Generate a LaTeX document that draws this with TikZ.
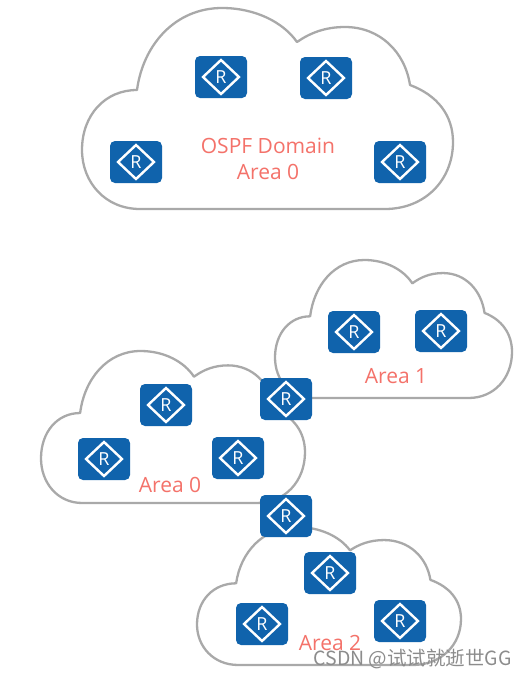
\documentclass[tikz,border=0pt]{standalone}
\usepackage{fontspec}
\usetikzlibrary{shapes.geometric}
\setmainfont{Open Sans}
\newfontfamily\cjkfont{Noto Sans CJK SC}
\definecolor{cloudline}{HTML}{A9A9A9}
\definecolor{routerblue}{HTML}{1063AC}
\definecolor{labelred}{HTML}{F4726A}
\definecolor{markgray}{HTML}{8C8C8C}
\tikzset{
  cloudshape/.style={draw=cloudline,line width=2.3pt,fill=white,line join=round},
  routerbox/.style={draw=none,fill=routerblue,rounded corners=5pt,minimum width=52pt,minimum height=42pt,inner sep=0pt},
  routerdiamond/.style={diamond,aspect=1,draw=white,line width=2.4pt,minimum width=37pt,minimum height=35pt,inner sep=0pt,text=white,font=\fontsize{18}{18}\selectfont},
  arealabel/.style={text=labelred,font=\fontsize{21}{26}\selectfont,align=center,inner sep=0pt},
  watermark/.style={text=markgray,font=\cjkfont\fontsize{19.5}{20}\selectfont,inner sep=0pt,anchor=east}
}
\newcommand{\cloudat}[5]{%
  \begin{scope}[shift={(#2,#3)},xscale=#4/371,yscale=#5/201,shift={(-82,-8)}]
    \draw[cloudshape] (140,209) coordinate (#1)
      .. controls (105,209) and (82,182) .. (82,150)
      .. controls (82,115) and (105,90) .. (137,90)
      .. controls (143,45) and (175,8) .. (222,8)
      .. controls (255,8) and (283,22) .. (297,42)
      .. controls (310,33) and (325,27) .. (345,27)
      .. controls (380,27) and (405,52) .. (410,85)
      .. controls (437,95) and (453,115) .. (453,142)
      .. controls (453,180) and (425,209) .. (385,209) -- cycle;
  \end{scope}}
\newcommand{\router}[3]{%
  \node[routerbox] (#1) at (#2,#3) {};
  \node[routerdiamond] (#1d) at (#1) {R};}
\begin{document}
\begin{tikzpicture}[x=1pt,y=-1pt]
\useasboundingbox (0,0) rectangle (526,678);
\cloudat{c0}{82}{8}{371}{201}
\cloudat{c1}{275}{260}{237}{138}
\cloudat{c2}{41}{351}{264}{152}
\cloudat{c3}{197}{527}{264}{138}
\router{a}{221}{77}
\router{b}{326}{78}
\router{c}{136}{162}
\router{d}{400}{162}
\router{e}{354}{332}
\router{f}{441}{331}
\router{g}{286}{399}
\router{h}{166}{405}
\router{i}{104}{459}
\router{j}{238}{458}
\router{k}{286}{516}
\router{l}{330}{573}
\router{m}{262}{624}
\router{n}{400}{621}
\node[arealabel] (t0) at (268,159) {OSPF Domain\\Area 0};
\node[arealabel] (t1) at (396,376) {Area 1};
\node[arealabel] (t2) at (170,485) {Area 0};
\node[arealabel] (t3) at (330,643) {Area 2};
\node[watermark] (w) at (512,659) {CSDN @试试就逝世GG};
\end{tikzpicture}
\end{document}
